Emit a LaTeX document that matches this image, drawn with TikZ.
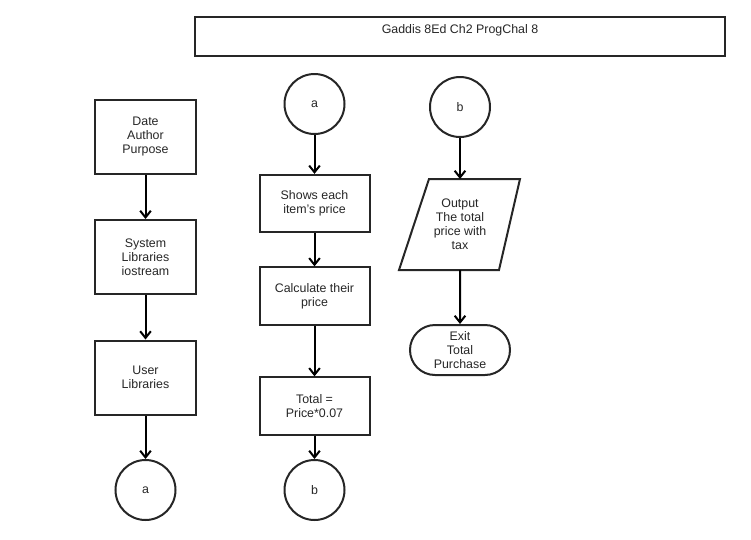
\documentclass[tikz,border=0pt]{standalone}
\usepackage{fontspec}
\setmainfont{Liberation Sans}
\usetikzlibrary{arrows.meta,shapes.geometric,shapes.misc}
\begin{document}
\begin{tikzpicture}[x=0.75pt,y=-0.75pt,
  every node/.style={font=\fontsize{9.3}{10.5}\selectfont, text=black!85, align=center, line width=1.5pt, draw=black!85, inner sep=0pt},
  procbox/.style={rectangle, minimum width=75.75pt, minimum height=55.5pt},
  midbox/.style={rectangle, minimum width=82.5pt, minimum height=43pt},
  conn/.style={circle, minimum size=45pt},
  io/.style={rectangle, draw=none, minimum width=75pt, minimum height=66.75pt},
  ioline/.style={draw=black!85, line width=1.5pt, line join=miter},
  term/.style={rounded rectangle, minimum width=75pt, minimum height=37.5pt},
  flow/.style={draw=black, line width=1.5pt, -{Straight Barb[length=5pt,width=8pt,line width=1.5pt]}}]
\useasboundingbox (0,0) rectangle (751,540);
% title
\node[rectangle, minimum width=397.5pt, minimum height=29.25pt] (title) at (460,36.5) {};
\node[draw=none] (titletext) at (460,30) {Gaddis 8Ed Ch2 ProgChal 8};
% left column
\node[procbox] (l1) at (145.5,137) {Date\\Author\\Purpose};
\node[procbox] (l2) at (145.5,257) {System\\Libraries\\iostream};
\node[procbox] (l3) at (145.5,377.5) {User\\Libraries};
\node[conn] (la) at (145.5,490) {a};
% middle column
\node[conn] (ma) at (314.5,104) {a};
\node[midbox] (m1) at (314.5,203.5) {Shows each\\item's price};
\node[midbox] (m2) at (314.5,296) {Calculate their\\price};
\node[midbox] (m3) at (314.5,406) {Total =\\Price*0.07};
\node[conn] (mb) at (314.5,490) {b};
% right column
\node[conn] (rb) at (460,107) {b};
\node[io] (r1) at (460,224.5) {Output\\The total\\price with\\tax};
\draw[ioline] ([xshift=-23.25pt]r1.north) -- ([xshift=45pt]r1.north)
  -- ([xshift=29.25pt]r1.south) -- ([xshift=-45.75pt]r1.south) -- cycle;
\node[term] (r2) at (460,350) {Exit\\Total\\Purchase};
% connectors
\draw[flow] (l1) -- (l2);
\draw[flow] (l2) -- (l3);
\draw[flow] (l3) -- (la);
\draw[flow] (ma) -- (m1);
\draw[flow] (m1) -- (m2);
\draw[flow] (m2) -- (m3);
\draw[flow] (m3) -- (mb);
\draw[flow] (rb) -- (r1);
\draw[flow] (r1) -- (r2);
\end{tikzpicture}
\end{document}
